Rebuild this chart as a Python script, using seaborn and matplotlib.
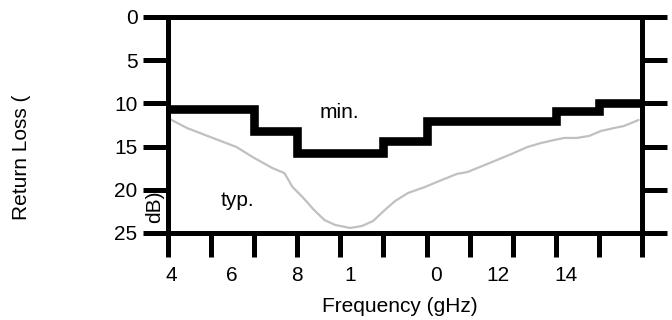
import matplotlib
matplotlib.use("Agg")
import matplotlib.pyplot as plt
import seaborn as sns
import pandas as pd

# tick positions along the frequency axis (one per tick mark)
tick_pos = [4, 5, 6, 7, 8, 9, 10, 11, 12, 13, 14, 15]
# tick labels and where they sit (they don't line up with the marks in the original)
label_text = ["4", "6", "8", "1", "0", "12", "14"]
label_pos = [4.07, 5.48, 6.99, 8.22, 10.22, 11.65, 13.23]
y_ticks = [0, 5, 10, 15, 20, 25]

# minimum spec (step line)
min_freq = [4, 6, 7, 9, 10, 13, 14, 15]
min_loss = [10.6, 13.2, 15.7, 14.3, 12.0, 10.9, 10.0, 10.0]

# typical curve
typ_freq = [4.00, 4.44, 5.04, 5.59, 5.96, 6.42, 6.70, 6.89, 7.12, 7.39, 7.63, 7.88,
            8.23, 8.50, 8.76, 9.03, 9.27, 9.57, 9.96, 10.35, 10.70, 10.95, 11.41,
            11.97, 12.34, 12.66, 12.96, 13.19, 13.49, 13.77, 14.05, 14.35, 14.58,
            14.81, 14.92]
typ_loss = [11.7, 12.85, 14.0, 15.05, 16.2, 17.48, 18.06, 19.68, 20.83, 22.34, 23.5,
            24.07, 24.42, 24.19, 23.61, 22.34, 21.3, 20.37, 19.68, 18.87, 18.17, 17.94,
            17.01, 15.86, 15.05, 14.58, 14.24, 14.0, 14.0, 13.77, 13.19, 12.85, 12.62,
            12.15, 11.92]

sns.set_style("white", {"text.color": "black", "xtick.color": "black",
                        "ytick.color": "black", "axes.labelcolor": "black"})
plt.rcParams['font.family'] = ['Liberation Sans', 'DejaVu Sans']
FS = 15

fig = plt.figure(figsize=(6.72, 3.2), dpi=100)
ax = fig.add_axes([0.25, 0.2719, 0.7054, 0.675])

typ_df = pd.DataFrame({"freq": typ_freq, "loss": typ_loss})
min_df = pd.DataFrame({"freq": min_freq, "loss": min_loss})

sns.lineplot(data=typ_df, x="freq", y="loss", ax=ax, color="#c0c0c0", linewidth=1.6)
sns.lineplot(data=min_df, x="freq", y="loss", ax=ax, color="black", linewidth=6.2,
             drawstyle="steps-post", solid_joinstyle="miter", solid_capstyle="butt")

ax.set_xlim(4, 15)
ax.set_ylim(25, 0)

for side in ["left", "right", "top", "bottom"]:
    ax.spines[side].set_visible(True)
    ax.spines[side].set_color("black")
    ax.spines[side].set_linewidth(3.6)

ax.set_yticks(y_ticks)
ax.set_yticklabels([str(v) for v in y_ticks])
ax.tick_params(axis="y", which="major", left=True, right=True, direction="out",
               length=18, width=3.6, color="black", labelcolor="black",
               labelsize=FS, pad=4)

ax.set_xticks(tick_pos)
ax.set_xticklabels([])
ax.tick_params(axis="x", which="major", bottom=True, direction="out",
               length=17.5, width=3.6, color="black")
ax.set_xticks(label_pos, minor=True)
ax.set_xticklabels(label_text, minor=True)
ax.tick_params(axis="x", which="minor", bottom=True, length=0, labelsize=FS,
               labelcolor="black", pad=24)

ax.set_xlabel("")
ax.set_ylabel("")

ax.text(7.97, 11.1, "min.", fontsize=FS, color="black", ha="center", va="center")
ax.text(5.62, 21.2, "typ.", fontsize=FS, color="black", ha="center", va="center")

fig.text(400 / 672, 1 - 307 / 320, "Frequency (gHz)", fontsize=FS, color="black",
         ha="center", va="center")
fig.text(22 / 672, 1 - 157 / 320, "Return Loss (", rotation=90, fontsize=FS,
         color="black", ha="center", va="center")
fig.text(155 / 672, 1 - 207 / 320, "dB)", rotation=90, fontsize=FS,
         color="black", ha="center", va="center")

fig.savefig("out.png", dpi=100)
